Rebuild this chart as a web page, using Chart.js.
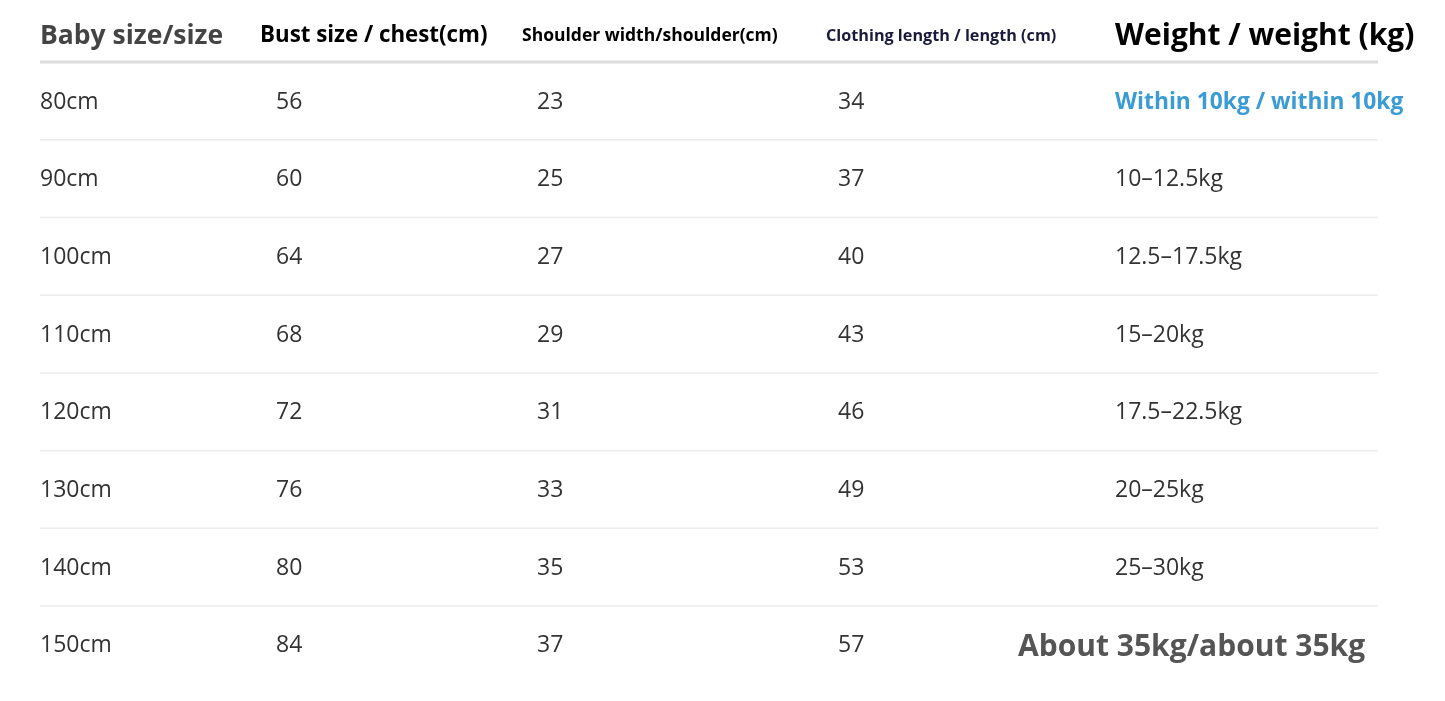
<!DOCTYPE html>
<html><head><meta charset="utf-8">
<script src="https://cdn.jsdelivr.net/npm/chart.js@4"></script>
<style>html,body{margin:0;padding:0;background:#fff}#wrap{width:1445px;height:701px}</style>
</head><body><div id="wrap"><canvas id="c"></canvas></div>
<script>
const headers = ["Baby size/size","Bust size / chest(cm)","Shoulder width/shoulder(cm)","Clothing length / length (cm)","Weight / weight (kg)"];
const sizes = ["80cm","90cm","100cm","110cm","120cm","130cm","140cm","150cm"];
const bust = [56,60,64,68,72,76,80,84];
const shoulder = [23,25,27,29,31,33,35,37];
const clothingLength = [34,37,40,43,46,49,53,57];
const weight = ["Within 10kg / within 10kg","10–12.5kg","12.5–17.5kg","15–20kg","17.5–22.5kg","20–25kg","25–30kg","About 35kg/about 35kg"];

// layout (pixels)
const colX = [40,276,537,838,1115];
const headX = [40,260,522,826,1115];
const headStyle = [
  {f:"bold 26.5px 'Open Sans'",c:"#444"},
  {f:"bold 22.3px 'Open Sans'",c:"#000"},
  {f:"bold 17.5px 'Open Sans'",c:"#000"},
  {f:"bold 16.2px 'Open Sans'",c:"#1a1a3a"},
  {f:"bold 30px 'Open Sans'",c:"#000"}
];
const headY = 36, firstRowY = 102, rowStep = 77.7;

const tablePlugin = {
  id:'table',
  afterDraw(chart){
    const {ctx, scales:{x,y}} = chart;
    ctx.save();
    ctx.textBaseline='middle';
    headers.forEach((h,i)=>{
      ctx.font=headStyle[i].f; ctx.fillStyle=headStyle[i].c;
      ctx.fillText(h, x.getPixelForValue(headX[i]), y.getPixelForValue(headY));
    });
    ctx.strokeStyle='#dcdcdc'; ctx.lineWidth=3;
    ctx.beginPath(); ctx.moveTo(x.getPixelForValue(40),y.getPixelForValue(62)); ctx.lineTo(x.getPixelForValue(1378),y.getPixelForValue(62)); ctx.stroke();
    ctx.strokeStyle='#ececec'; ctx.lineWidth=1.5;
    for(let r=0;r<sizes.length-1;r++){
      const ly = y.getPixelForValue(firstRowY - 1 + rowStep*(r+0.5));
      ctx.beginPath(); ctx.moveTo(x.getPixelForValue(40),ly); ctx.lineTo(x.getPixelForValue(1378),ly); ctx.stroke();
    }
    const cols=[sizes,bust,shoulder,clothingLength];
    sizes.forEach((_,r)=>{
      const ry = y.getPixelForValue(firstRowY + rowStep*r);
      ctx.font="23px 'Open Sans'"; ctx.fillStyle="#333";
      cols.forEach((col,i)=>ctx.fillText(String(col[r]), x.getPixelForValue(colX[i]), ry));
      if(r===0){ctx.font="bold 22.8px 'Open Sans'";ctx.fillStyle="#3a9bd5";ctx.fillText(weight[r],x.getPixelForValue(1115),ry+1);}
      else if(r===sizes.length-1){ctx.font="bold 30px 'Open Sans'";ctx.fillStyle="#555";ctx.fillText(weight[r],x.getPixelForValue(1018),ry+2);}
      else {ctx.fillText(weight[r], x.getPixelForValue(1115), ry);}
    });
    ctx.restore();
  }
};

new Chart(document.getElementById('c'),{
  type:'scatter',
  data:{datasets:[{data:sizes.map((s,r)=>({x:colX[0],y:firstRowY+rowStep*r})),pointRadius:0}]},
  options:{responsive:true,maintainAspectRatio:false,animation:false,
    layout:{padding:0},
    plugins:{legend:{display:false},tooltip:{enabled:false}},
    scales:{x:{type:'linear',min:0,max:1445,display:false},y:{type:'linear',min:0,max:701,reverse:true,display:false}}},
  plugins:[tablePlugin]
});
</script></body></html>
